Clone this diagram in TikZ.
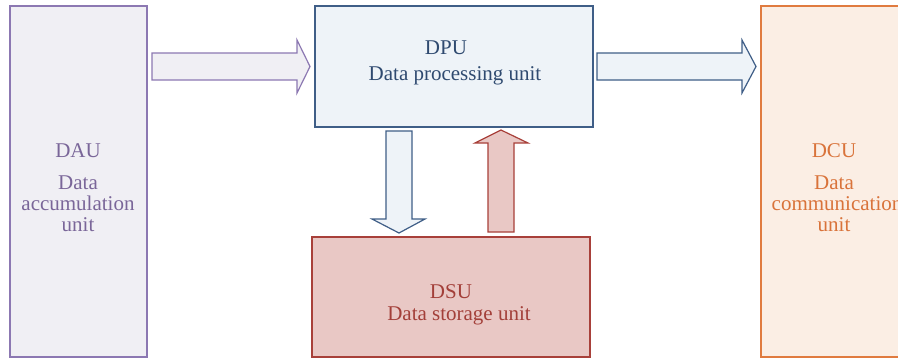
\documentclass[tikz,border=0pt]{standalone}
\usepackage{fontspec}
\setmainfont{Liberation Serif}
\definecolor{dauFill}{HTML}{F0EFF4}
\definecolor{dauLine}{HTML}{8C78B2}
\definecolor{dauText}{HTML}{7A6699}
\definecolor{dpuFill}{HTML}{EEF3F8}
\definecolor{dpuLine}{HTML}{3F5E87}
\definecolor{dpuText}{HTML}{2F4A70}
\definecolor{dsuFill}{HTML}{E9C8C5}
\definecolor{dsuLine}{HTML}{A8403A}
\definecolor{dsuText}{HTML}{A33F39}
\definecolor{dcuFill}{HTML}{FBEEE4}
\definecolor{dcuLine}{HTML}{E07B3F}
\definecolor{dcuText}{HTML}{D9733A}
\tikzset{
  unitbox/.style={draw, line width=1.2pt, rectangle, inner sep=0pt},
  lbl/.style={font=\fontsize{21}{24}\selectfont, inner sep=0pt, anchor=base},
  blockarrow/.style={line width=1.2pt, line join=miter},
}
\begin{document}
\begin{tikzpicture}[x=1pt,y=-1pt]
\clip (0,0) rectangle (898,360);
\fill[white] (0,0) rectangle (898,360);

% unit boxes
\node[unitbox, draw=dauLine, fill=dauFill, minimum width=137, minimum height=351] (dau) at (78.5,181.5) {};
\node[unitbox, draw=dpuLine, fill=dpuFill, minimum width=278, minimum height=121] (dpu) at (454,66.5) {};
\node[unitbox, draw=dsuLine, fill=dsuFill, minimum width=278, minimum height=120] (dsu) at (451,297) {};
\node[unitbox, draw=dcuLine, fill=dcuFill, minimum width=160, minimum height=351] (dcu) at (841,181.5) {};

% labels
\node[lbl, text=dauText] (daut1) at (78,157) {DAU};
\node[lbl, text=dauText] (daut2) at (78,189) {Data};
\node[lbl, text=dauText] (daut3) at (78,210) {accumulation};
\node[lbl, text=dauText] (daut4) at (78,231) {unit};

\node[lbl, text=dpuText] (dput1) at (446,54) {DPU};
\node[lbl, text=dpuText] (dput2) at (455,80) {Data processing unit};

\node[lbl, text=dsuText] (dsut1) at (451,298) {DSU};
\node[lbl, text=dsuText] (dsut2) at (459,320) {Data storage unit};

\node[lbl, text=dcuText] (dcut1) at (834,157) {DCU};
\node[lbl, text=dcuText] (dcut2) at (834,189) {Data};
\node[lbl, text=dcuText] (dcut3) at (837,210) {communication};
\node[lbl, text=dcuText] (dcut4) at (834,231) {unit};

% block arrows between the units
\draw[blockarrow, draw=dauLine, fill=dauFill]
  (152,53) -- (297,53) -- (297,40) -- (310,66.5) -- (297,93) -- (297,80) -- (152,80) -- cycle;
\draw[blockarrow, draw=dpuLine, fill=dpuFill]
  (597,53) -- (742,53) -- (742,40) -- (756,66.5) -- (742,93) -- (742,80) -- (597,80) -- cycle;
\draw[blockarrow, draw=dpuLine, fill=dpuFill]
  (386,131) -- (412,131) -- (412,219) -- (425,219) -- (399,233) -- (372,219) -- (386,219) -- cycle;
\draw[blockarrow, draw=dsuLine, fill=dsuFill]
  (488,232) -- (514,232) -- (514,143) -- (528,143) -- (501,130) -- (475,143) -- (488,143) -- cycle;
\end{tikzpicture}
\end{document}
